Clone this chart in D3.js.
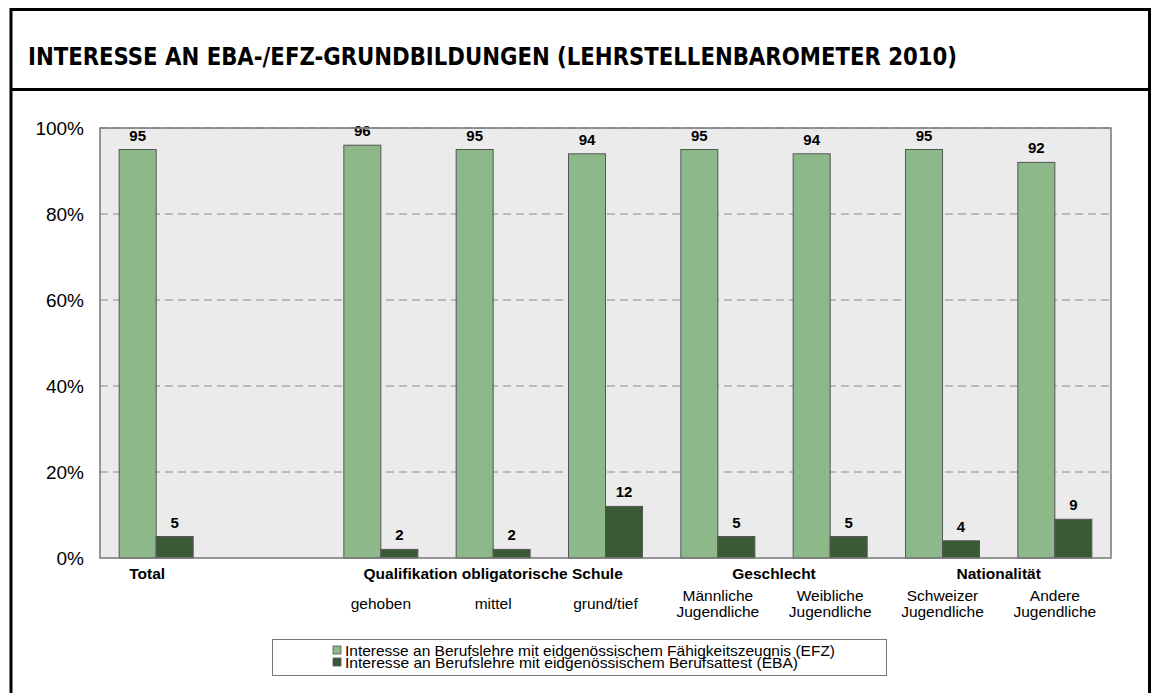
<!DOCTYPE html>
<html>
<head>
<meta charset="utf-8">
<style>
  body { margin: 0; background: #fff; }
  svg { display: block; font-family: 'Liberation Sans', Arial, sans-serif; }
</style>
<script src="https://d3js.org/d3.v7.min.js"></script>
</head>
<body>
<div id="chart"></div>
<script>
// data
var slots = ["Total", "", "gehoben", "mittel", "grund/tief", "Männliche\nJugendliche", "Weibliche\nJugendliche", "Schweizer\nJugendliche", "Andere\nJugendliche"];
var efz = [95, null, 96, 95, 94, 95, 94, 95, 92];
var eba = [5, null, 2, 2, 12, 5, 5, 4, 9];
var groups = [
  { label: "Total", from: 0, to: 0 },
  { label: "Qualifikation obligatorische Schule", from: 2, to: 4 },
  { label: "Geschlecht", from: 5, to: 6 },
  { label: "Nationalität", from: 7, to: 8 }
];
var seriesNames = [
  "Interesse an Berufslehre mit eidgenössischem Fähigkeitszeugnis (EFZ)",
  "Interesse an Berufslehre mit eidgenössischem Berufsattest (EBA)"
];
var yTicks = [0, 20, 40, 60, 80, 100];
var title = "INTERESSE AN EBA-/EFZ-GRUNDBILDUNGEN (LEHRSTELLENBAROMETER 2010)";

var W = 1154, H = 693;
var colors = ["#8db88a", "#3a5a35"];

var svg = d3.select("#chart").append("svg").attr("width", W).attr("height", H);

// frame
svg.append("path")
  .attr("d", "M11,700 L11,9.5 L1149.5,9.5 L1149.5,700")
  .attr("fill", "none").attr("stroke", "#000").attr("stroke-width", 3);
svg.append("line").attr("x1", 11).attr("x2", 1149.5).attr("y1", 89.5).attr("y2", 89.5)
  .attr("stroke", "#000").attr("stroke-width", 3);

svg.append("text").attr("x", 28).attr("y", 65)
  .attr("font-family", "'DejaVu Sans Condensed', 'DejaVu Sans', sans-serif")
  .attr("font-weight", "bold").attr("font-size", 24)
  .attr("textLength", 929).attr("lengthAdjust", "spacingAndGlyphs")
  .text(title);

var m = { left: 100, right: 1111, top: 128, bottom: 558 };

var x = d3.scaleBand().domain(d3.range(slots.length)).range([m.left, m.right]).padding(0);
var y = d3.scaleLinear().domain([0, 100]).range([m.bottom, m.top]);
var barW = 37;

// plot background
svg.append("rect").attr("x", m.left).attr("y", m.top)
  .attr("width", m.right - m.left).attr("height", m.bottom - m.top)
  .attr("fill", "#ebebeb");

// grid
svg.append("g").selectAll("line").data(yTicks.filter(function (d) { return d > 0; }))
  .join("line")
  .attr("x1", m.left).attr("x2", m.right)
  .attr("y1", function (d) { return y(d); }).attr("y2", function (d) { return y(d); })
  .attr("stroke", "#8a8a8a").attr("stroke-width", 1).attr("stroke-dasharray", "8,5");

// y axis labels
var yAxis = d3.axisLeft(y).tickValues(yTicks).tickFormat(function (d) { return d + "%"; })
  .tickSize(0).tickPadding(16);
var ya = svg.append("g").attr("transform", "translate(" + m.left + ",0)").call(yAxis);
ya.select(".domain").remove();
ya.selectAll("text").attr("font-size", 19).attr("fill", "#000")
  .attr("font-family", "'Liberation Sans', Arial, sans-serif");

// bars
var idx = d3.range(slots.length).filter(function (i) { return efz[i] !== null; });
[efz, eba].forEach(function (vals, s) {
  var g = svg.append("g");
  g.selectAll("rect").data(idx).join("rect")
    .attr("x", function (i) { return x(i) + x.bandwidth() / 2 - barW + s * barW; })
    .attr("y", function (i) { return y(vals[i]); })
    .attr("width", barW)
    .attr("height", function (i) { return y(0) - y(vals[i]); })
    .attr("fill", colors[s]).attr("stroke", "#555").attr("stroke-width", 1);
  g.selectAll("text").data(idx).join("text")
    .attr("x", function (i) { return x(i) + x.bandwidth() / 2 - barW / 2 + s * barW; })
    .attr("y", function (i) { return y(vals[i]) - 9; })
    .attr("text-anchor", "middle").attr("font-weight", "bold").attr("font-size", 15)
    .text(function (i) { return vals[i]; });
});

// plot border
svg.append("rect").attr("x", m.left).attr("y", m.top)
  .attr("width", m.right - m.left).attr("height", m.bottom - m.top)
  .attr("fill", "none").attr("stroke", "#777").attr("stroke-width", 1.5);
svg.append("line").attr("x1", m.left).attr("x2", m.right).attr("y1", m.top).attr("y2", m.top)
  .attr("stroke", "#8a8a8a").attr("stroke-width", 1.5).attr("stroke-dasharray", "8,5");

// group labels
svg.append("g").selectAll("text").data(groups).join("text")
  .attr("x", function (g) {
    if (g.from === g.to) return x(g.from) + x.bandwidth() / 2 - 9;
    return (x(g.from) + x(g.to) + x.bandwidth()) / 2;
  })
  .attr("y", 579).attr("text-anchor", "middle")
  .attr("font-weight", "bold").attr("font-size", 15.5)
  .text(function (g) { return g.label; });

// category labels
var cat = svg.append("g").selectAll("text").data(idx.filter(function (i) { return i > 0; })).join("text")
  .attr("text-anchor", "middle").attr("font-size", 15.5);
cat.each(function (i) {
  var lines = slots[i].split("\n");
  var t = d3.select(this);
  var cx = x(i) + x.bandwidth() / 2;
  var y0 = lines.length === 1 ? 609 : 601;
  lines.forEach(function (l, k) {
    t.append("tspan").attr("x", cx).attr("y", y0 + k * 16).text(l);
  });
});

// legend
var lg = svg.append("g");
lg.append("rect").attr("x", 272.5).attr("y", 639.5).attr("width", 614).attr("height", 36)
  .attr("fill", "#fff").attr("stroke", "#777").attr("stroke-width", 1);
seriesNames.forEach(function (n, s) {
  lg.append("rect").attr("x", 333).attr("y", 646 + s * 12).attr("width", 8).attr("height", 8)
    .attr("fill", colors[s]).attr("stroke", "#555").attr("stroke-width", 0.8);
  lg.append("text").attr("x", 345).attr("y", 656 + s * 12).attr("font-size", 14.5)
    .attr("textLength", s === 0 ? 490 : 453).attr("lengthAdjust", "spacingAndGlyphs").text(n);
});
</script>
</body>
</html>
